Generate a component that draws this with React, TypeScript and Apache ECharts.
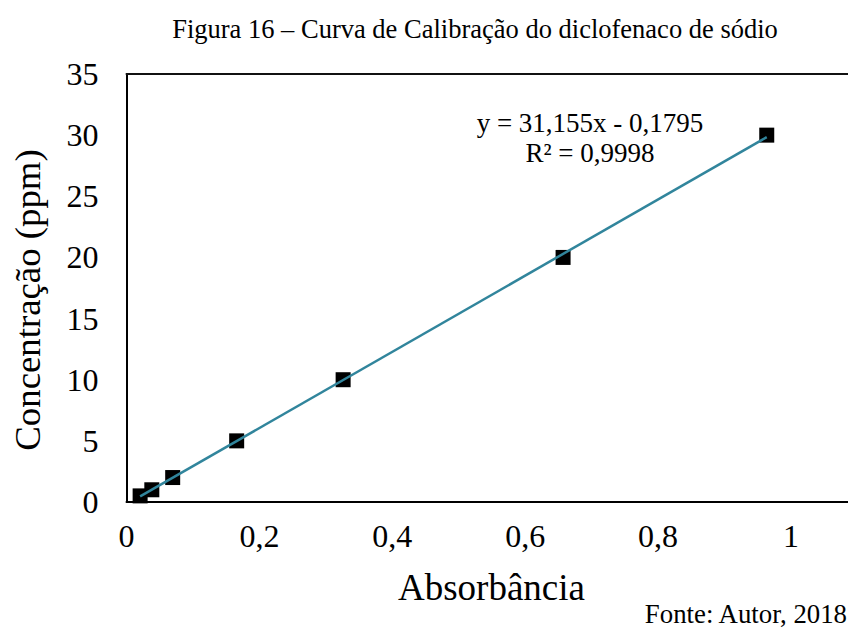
import React, { useEffect, useRef } from "react";
import * as echarts from "echarts";

const absorbance = [0.0205, 0.0381, 0.0695, 0.1658, 0.326, 0.657, 0.9635];
const concentration = [0.5, 1, 2, 5, 10, 20, 30];
const slope = 31.155;
const intercept = -0.1795;
const r2Text = "R² = 0,9998";
const eqText = "y = 31,155x - 0,1795";
const titleText = "Figura 16 – Curva de Calibração do diclofenaco de sódio";
const sourceText = "Fonte: Autor, 2018";
const xName = "Absorbância";
const yName = "Concentração (ppm)";

const FONT = '"Liberation Serif", "Times New Roman", serif';

export default function App() {
  const ref = useRef<HTMLDivElement>(null);
  useEffect(() => {
    if (!ref.current) return;
    const chart = echarts.init(ref.current, null, { renderer: "svg" });
    const gridLeft = 126.5;
    const pxPerUnit = 664.5;
    const xMax = (848 - gridLeft) / pxPerUnit;
    const xmin = Math.min(...absorbance);
    const xmax = Math.max(...absorbance);
    const trend = [
      [xmin, slope * xmin + intercept],
      [xmax, slope * xmax + intercept],
    ];
    const fmtX = (v: number) => {
      const k = v * 5;
      if (Math.abs(k - Math.round(k)) > 1e-6) return "";
      const r = Math.round(k) / 5;
      return String(r).replace(".", ",");
    };
    const txt = (text: string, x: number, y: number, size: number, align: string, rotation = 0) => ({
      type: "text",
      x,
      y,
      rotation,
      style: {
        text,
        fontFamily: FONT,
        fontSize: size,
        fill: "#000",
        align,
        verticalAlign: "middle",
      },
    });
    chart.setOption({
      animation: false,
      backgroundColor: "#ffffff",
      textStyle: { fontFamily: FONT },
      grid: {
        left: gridLeft,
        right: 0,
        top: 74,
        bottom: 126,
        containLabel: false,
        outerBoundsMode: "none",
      },
      xAxis: [
        {
          type: "value",
          min: 0,
          max: xMax,
          interval: 0.2,
          axisLine: { show: true, onZero: false, lineStyle: { color: "#000", width: 2 } },
          axisTick: { show: false },
          splitLine: { show: false },
          axisLabel: {
            formatter: fmtX,
            fontFamily: FONT,
            fontSize: 32,
            color: "#000",
            margin: 18,
            showMaxLabel: false,
          },
        },
        {
          type: "value",
          position: "top",
          min: 0,
          max: xMax,
          interval: 0.2,
          axisLine: { show: true, onZero: false, lineStyle: { color: "#111", width: 2 } },
          axisTick: { show: false },
          splitLine: { show: false },
          axisLabel: { show: false },
        },
      ],
      yAxis: {
        type: "value",
        min: 0,
        max: 35,
        interval: 5,
        axisLine: { show: true, onZero: false, lineStyle: { color: "#000", width: 2 } },
        axisTick: { show: false },
        splitLine: { show: false },
        axisLabel: { fontFamily: FONT, fontSize: 32, color: "#000", margin: 28 },
      },
      series: [
        {
          type: "scatter",
          data: absorbance.map((x, i) => [x, concentration[i]]),
          symbol: "rect",
          symbolSize: 15,
          itemStyle: { color: "#000", opacity: 1 },
          z: 2,
        },
        {
          type: "line",
          data: trend,
          showSymbol: false,
          symbol: "none",
          lineStyle: { color: "#31859C", width: 2.5 },
          z: 3,
        },
      ],
      graphic: [
        txt(titleText, 475, 29, 26.5, "center"),
        txt(eqText, 590, 123, 27, "center"),
        txt(r2Text, 590, 153, 27, "center"),
        txt(sourceText, 847, 614, 26.8, "right"),
        txt(xName, 491.5, 587, 37, "center"),
        txt(yName, 27, 300, 36.8, "center", Math.PI / 2),
      ],
    });
    return () => chart.dispose();
  }, []);
  return (
    <div
      ref={ref}
      style={{ position: "absolute", left: 0, top: 0, width: 848, height: 628, background: "#fff" }}
    />
  );
}
